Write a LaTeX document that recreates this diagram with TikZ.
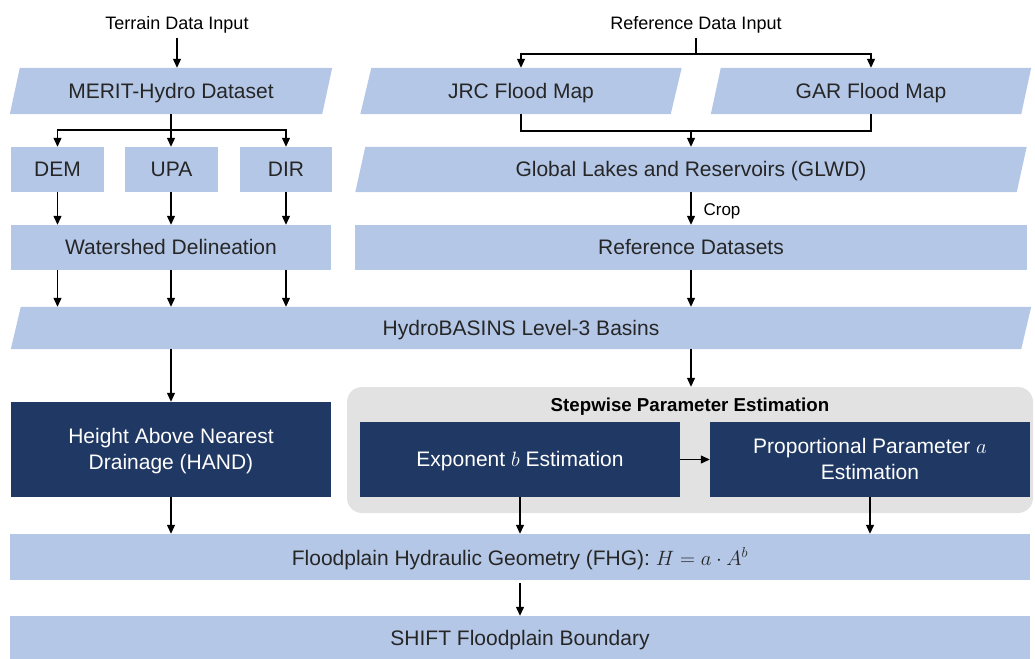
\documentclass[tikz,border=0pt]{standalone}
\usepackage{fontspec}
\setmainfont{Liberation Sans}
\usetikzlibrary{arrows.meta,backgrounds}
\definecolor{lb}{RGB}{180,199,231}
\definecolor{navy}{RGB}{32,56,100}
\definecolor{grp}{RGB}{226,226,226}
\definecolor{txt}{RGB}{38,38,38}
\newcommand\parafill[2]{\fill[lb] ([xshift=-#2pt]#1.south west) -- ([xshift=#2pt]#1.north west) -- ([xshift=#2pt]#1.north east) -- ([xshift=-#2pt]#1.south east) -- cycle;}
\begin{document}
\begin{tikzpicture}[x=1pt,y=-1pt,
  box/.style={draw=none,inner sep=0pt,minimum width=#1,text=txt,font=\fontsize{21}{26}\selectfont,align=center,text depth=1pt},
  lbox/.style={box=#1,fill=lb},
  para/.style={box=#1},
  dbox/.style={box=#1,fill=navy,text=white,font=\fontsize{21}{26}\selectfont},
  lab/.style={inner sep=0pt,text=black,font=\fontsize{18}{21}\selectfont},
  arr/.style={line width=1.2pt,-{Triangle[length=9pt,width=8pt]}},
  ln/.style={line width=1.2pt},
  grpbox/.style={fill=grp,rounded corners=15pt,minimum width=686pt,minimum height=126pt,inner sep=0pt}
]
\useasboundingbox (0,0) rectangle (1035,658);

% left column
\node[lab] (terrain) at (177,25) {Terrain Data Input};
\node[para=312pt,minimum height=46pt] (merit) at (171,91) {MERIT-Hydro Dataset};
\node[lbox=93pt,minimum height=45pt] (dem) at (57.5,169.5) {DEM};
\node[lbox=93pt,minimum height=45pt] (upa) at (171.5,169.5) {UPA};
\node[lbox=92pt,minimum height=45pt] (dir) at (286,169.5) {DIR};
\node[lbox=320pt,minimum height=45pt] (wat) at (171,247.5) {Watershed Delineation};

% right column
\node[lab] (refin) at (696,25) {Reference Data Input};
\node[para=310pt,minimum height=46pt] (jrc) at (521,91) {JRC Flood Map};
\node[para=310pt,minimum height=46pt] (gar) at (871,91) {GAR Flood Map};
\node[para=661pt,minimum height=45pt] (glwd) at (691,169.5) {Global Lakes and Reservoirs (GLWD)};
\node[lbox=672pt,minimum height=45pt] (refd) at (691,247.5) {Reference Datasets};

% basins
\node[para=1010pt,minimum height=42pt] (hydro) at (521,328) {HydroBASINS Level-3 Basins};

% parameter section
\node[dbox=320pt,minimum height=95pt] (hand) at (171,449.5) {Height Above Nearest\\Drainage (HAND)};
\node[dbox=320pt,minimum height=75pt] (expo) at (520,459.5) {Exponent $b$ Estimation};
\node[dbox=320pt,minimum height=75pt] (prop) at (870,459.5) {Proportional Parameter $a$\\Estimation};
\node[inner sep=0pt,font=\bfseries\fontsize{18.7}{22}\selectfont] (title) at (690,407) {Stepwise Parameter Estimation};

% bottom
\node[lbox=1020pt,minimum height=46pt] (fhg) at (520,557) {Floodplain Hydraulic Geometry (FHG): $H = a\cdot A^{b}$};
\node[lbox=1020pt,minimum height=44pt] (shift) at (520,638) {SHIFT Floodplain Boundary};

\begin{scope}[on background layer]
  \parafill{merit}{5}
  \parafill{jrc}{5.5}
  \parafill{gar}{5}
  \parafill{glwd}{5}
  \parafill{hydro}{5}
  \node[grpbox] (group) at (690,450) {};
\end{scope}

% connectors: terrain
\draw[arr] (terrain.south) ++(0,4) -- (terrain.south |- merit.north);
\coordinate (mb) at (171,130);
\draw[ln] (merit.south) -- (mb);
\draw[arr] (mb) -| (dem.north);
\draw[arr] (mb) -- (upa.north -| mb);
\draw[arr] (mb) -| (dir.north);
\draw[arr] (dem.south) -- (dem.south |- wat.north);
\draw[arr] (upa.south -| mb) -- (wat.north -| mb);
\draw[arr] (dir.south) -- (dir.south |- wat.north);
\draw[arr] (wat.south -| dem) -- (hydro.north -| dem);
\draw[arr] (wat.south -| mb) -- (hydro.north -| mb);
\draw[arr] (wat.south -| dir) -- (hydro.north -| dir);

% connectors: reference
\coordinate (rb) at (696,54);
\draw[ln] (refin.south) ++(0,4) -- (rb);
\draw[arr] (rb) -| (jrc.north);
\draw[arr] (rb) -| (gar.north);
\coordinate (jb) at (521,131);
\coordinate (gb) at (871,131);
\draw[ln] (jrc.south) -- (jb) -- (gb) -- (gar.south);
\draw[arr] (jb -| glwd) -- (glwd.north);
\draw[arr] (glwd.south) -- node[right=12pt,lab,font=\fontsize{17}{20}\selectfont,yshift=-3pt]{Crop} (refd.north);
\draw[arr] (refd.south) -- (hydro.north -| refd);

% to parameter section
\draw[arr] (hydro.south -| hand) -- (hand.north);
\draw[arr] (hydro.south -| refd) -- (group.north -| refd);
\draw[arr] (expo.east) -- (prop.west);

% to FHG
\draw[arr] (hand.south) -- (fhg.north -| hand);
\draw[arr] (expo.south) -- (fhg.north -| expo);
\draw[arr] (prop.south) -- (fhg.north -| prop);
\draw[arr] (fhg.south) ++(0,3) -- (shift.north);
\end{tikzpicture}
\end{document}
